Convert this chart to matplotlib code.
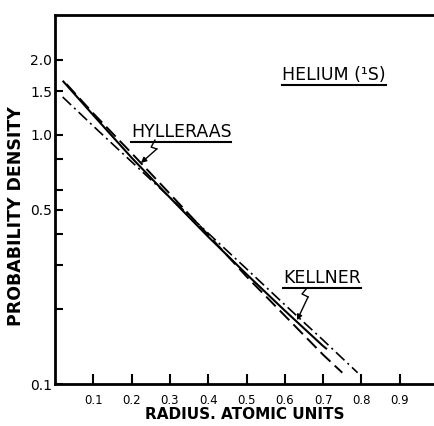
import matplotlib
matplotlib.use("Agg")
import matplotlib.pyplot as plt
from matplotlib.lines import Line2D

# values (radius in atomic units, density on log axis)
solid_r = [0.02, 0.1, 0.2, 0.3, 0.4, 0.5, 0.6, 0.7, 0.71]
solid_p = [1.65, 1.20, 0.81, 0.56, 0.39, 0.276, 0.197, 0.142, 0.138]

dashed_r = [0.03, 0.1, 0.2, 0.3, 0.4, 0.5, 0.6, 0.7, 0.75]
dashed_p = [1.60, 1.22, 0.845, 0.58, 0.397, 0.27, 0.188, 0.131, 0.111]

dashdot_r = [0.02, 0.1, 0.2, 0.3, 0.4, 0.5, 0.6, 0.7, 0.79]
dashdot_p = [1.42, 1.085, 0.78, 0.561, 0.403, 0.29, 0.208, 0.150, 0.111]

x_ticks = [0.1, 0.2, 0.3, 0.4, 0.5, 0.6, 0.7, 0.8, 0.9]
x_labels = ["0.1", "0.2", "0.3", "0.4", "0.5", "0.6", "0.7", "0.8", "0.9"]
y_ticks = [0.1, 0.2, 0.3, 0.4, 0.5, 0.6, 0.8, 1.0, 1.5, 2.0]
y_labels = ["0.1", "", "", "", "0.5", "", "", "1.0", "1.5", "2.0"]

fig = plt.figure(figsize=(4.35, 4.26), dpi=100)
ax = fig.add_axes([55 / 435, 42 / 426, 380 / 435, 369 / 426])

ax.plot(solid_r, solid_p, color="black", lw=1.5, solid_capstyle="butt")
ax.plot(dashed_r, dashed_p, color="black", lw=1.4, dashes=(7, 3))
ax.plot(dashdot_r, dashdot_p, color="black", lw=1.2, dashes=(7, 2.5, 1.2, 2.5))

ax.set_yscale("log")
ax.set_xlim(0, 0.992)
ax.set_ylim(0.1, 3.03)
ax.set_xticks(x_ticks)
ax.set_xticklabels(x_labels, fontsize=8.5)
ax.set_yticks(y_ticks)
ax.set_yticklabels(y_labels, fontsize=10)
ax.minorticks_off()
ax.tick_params(axis="x", direction="in", length=7, width=1.5, pad=7)
ax.tick_params(axis="y", direction="in", length=6, width=1.5, pad=2)

ax.spines["right"].set_visible(False)
for s in ["left", "top", "bottom"]:
    ax.spines[s].set_linewidth(2)

fig.text(0.563, 0.026, "RADIUS. ATOMIC UNITS", ha="center", va="center",
         fontsize=11, fontweight="bold")
fig.text(0.037, 0.493, "PROBABILITY DENSITY", ha="center", va="center",
         rotation=90, fontsize=12.5, fontweight="bold")

labels = [
    ax.text(0.734, 0.838, "HELIUM (¹S)", transform=ax.transAxes,
            ha="center", va="center", fontsize=12.5),
    ax.text(0.332, 0.682, "HYLLERAAS", transform=ax.transAxes,
            ha="center", va="center", fontsize=12.5),
    ax.text(0.703, 0.286, "KELLNER", transform=ax.transAxes,
            ha="center", va="center", fontsize=12.5),
]

# squiggly pointers from the labels to the curves
hyl = [(0.263, 0.661), (0.253, 0.642), (0.268, 0.637)]
kel = [(0.663, 0.260), (0.650, 0.244), (0.666, 0.236)]
for pts, tip in [(hyl, (0.226, 0.599)), (kel, (0.637, 0.173))]:
    ax.plot([p[0] for p in pts], [p[1] for p in pts], color="black", lw=1,
            transform=ax.transAxes, clip_on=False)
    ax.annotate("", xy=tip, xytext=pts[-1], xycoords="axes fraction",
                arrowprops=dict(arrowstyle="-|>", lw=1, color="black",
                                mutation_scale=8, shrinkA=0, shrinkB=0))

# underline the labels
fig.canvas.draw()
r = fig.canvas.get_renderer()
inv = fig.transFigure.inverted()
for t in labels:
    bb = t.get_window_extent(r)
    (x0, y0), (x1, _) = inv.transform([(bb.x0, bb.y0), (bb.x1, bb.y1)])
    fig.add_artist(Line2D([x0, x1], [y0 - 0.002, y0 - 0.002], color="black",
                          lw=1.5, transform=fig.transFigure))

plt.savefig("out.png", dpi=100)
